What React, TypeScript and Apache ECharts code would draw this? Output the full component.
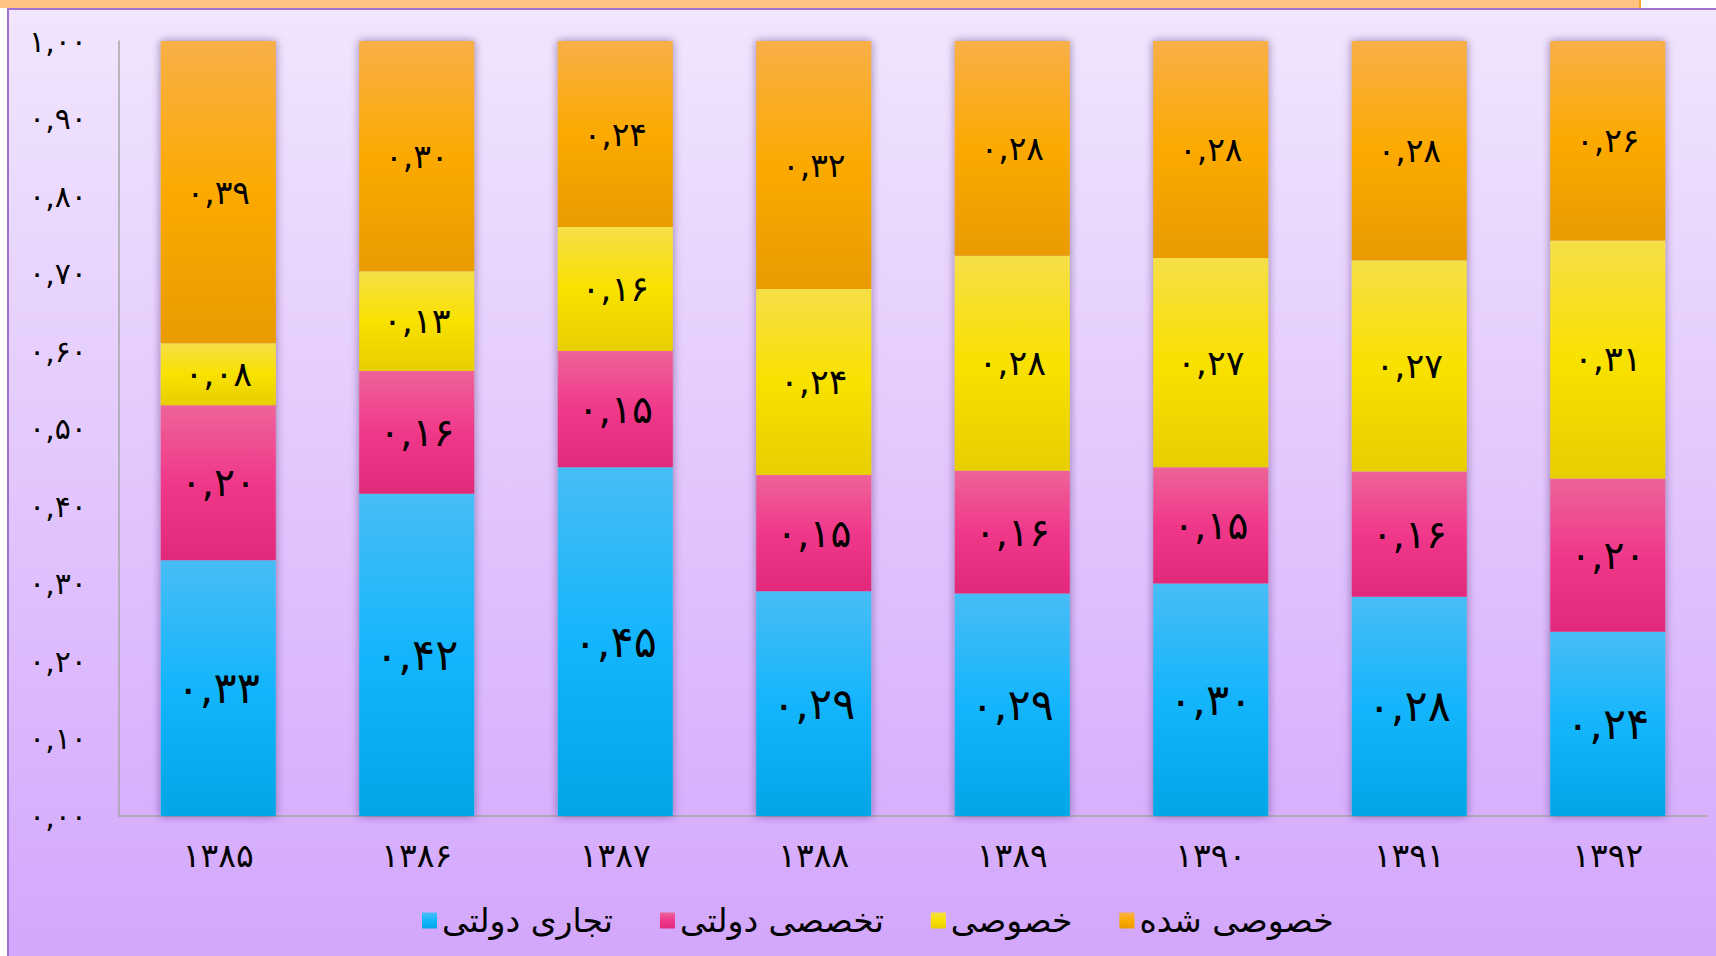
import React, { useEffect, useRef } from "react";
import * as echarts from "echarts";

const years = ["۱۳۸۵", "۱۳۸۶", "۱۳۸۷", "۱۳۸۸", "۱۳۸۹", "۱۳۹۰", "۱۳۹۱", "۱۳۹۲"];
const seriesNames = ["تجاری دولتی", "تخصصی دولتی", "خصوصی", "خصوصی شده"];
const tejariDolati = [0.33, 0.42, 0.45, 0.29, 0.29, 0.3, 0.28, 0.24];
const takhasosiDolati = [0.2, 0.16, 0.15, 0.15, 0.16, 0.15, 0.16, 0.2];
const khosusi = [0.08, 0.13, 0.16, 0.24, 0.28, 0.27, 0.27, 0.31];
const khosusiShode = [0.39, 0.3, 0.24, 0.32, 0.28, 0.28, 0.28, 0.26];

const allSeries = [tejariDolati, takhasosiDolati, khosusi, khosusiShode];

const FONT = "DejaVu Sans";

function toFa(v: number): string {
  const s = v.toFixed(2).replace(".", ",");
  return s.replace(/[0-9]/g, (d) => "۰۱۲۳۴۵۶۷۸۹"[Number(d)]);
}

function grad(c: string[]) {
  return new echarts.graphic.LinearGradient(0, 0, 0, 1, [
    { offset: 0, color: c[0] },
    { offset: 0.5, color: c[1] },
    { offset: 1, color: c[2] },
  ]);
}

const colorStops = [
  ["#48BDF6", "#14B5FC", "#00A6E6"],
  ["#EE6399", "#F0388A", "#E2287A"],
  ["#F6DF48", "#F9E100", "#E8CE00"],
  ["#F8AF48", "#FCAA00", "#E99B00"],
];
const labelSizes = [43, 39, 35, 33];

export default function App() {
  const ref = useRef<HTMLDivElement>(null);

  useEffect(() => {
    if (!ref.current) return;
    const chart = echarts.init(ref.current, null, { renderer: "svg" });
    const totals = years.map((_, i) => allSeries.reduce((s, arr) => s + arr[i], 0));

    const stacked = allSeries.map((arr, si) => ({
      name: seriesNames[si],
      type: "bar",
      stack: "total",
      barWidth: "58%",
      barGap: "-100%",
      z: 3,
      itemStyle: { color: grad(colorStops[si]) },
      label: {
        show: true,
        position: "inside",
        color: "#000",
        fontFamily: FONT,
        fontSize: labelSizes[si],
        formatter: (p: any) => toFa(p.data.raw),
      },
      data: arr.map((v, i) => ({ value: v / totals[i], raw: v })),
    }));

    const shadowSeries = {
      name: "shadow",
      type: "bar",
      barWidth: "58%",
      barGap: "-100%",
      z: 2,
      silent: true,
      itemStyle: {
        color: "#c9b3e6",
        shadowBlur: 9,
        shadowColor: "rgba(60,30,100,0.55)",
      },
      data: years.map(() => 1),
    };

    chart.setOption({
      animation: false,
      grid: { left: 119, top: 41, right: 9, bottom: 140 },
      legend: {
        data: seriesNames,
        left: 417,
        top: 899,
        itemWidth: 15,
        itemHeight: 16,
        itemGap: 47,
        icon: "rect",
        textStyle: { fontFamily: FONT, fontSize: 33, color: "#000" },
      },
      xAxis: {
        type: "category",
        data: years,
        axisLine: { show: true, lineStyle: { color: "#A6A6A6", width: 1.5 } },
        axisTick: { show: false },
        axisLabel: { color: "#000", fontFamily: FONT, fontSize: 33, margin: 23 },
      },
      yAxis: {
        type: "value",
        min: 0,
        max: 1,
        interval: 0.1,
        splitLine: { show: false },
        axisLine: { show: true, lineStyle: { color: "#A6A6A6", width: 1.5 } },
        axisTick: { show: false },
        axisLabel: {
          color: "#000",
          fontFamily: FONT,
          fontSize: 30,
          margin: 32,
          formatter: (v: number) => toFa(v),
        },
      },
      series: [shadowSeries, ...stacked],
    });
    return () => chart.dispose();
  }, []);

  return (
    <div style={{ position: "fixed", left: 0, top: 0, width: 1716, height: 956, background: "#fff", overflow: "hidden" }}>
      <div style={{ position: "absolute", left: 0, top: 0, width: 1639, height: 8, background: "#FFC283", borderRight: "2px solid #F8A830" }} />
      <div
        style={{
          position: "absolute",
          left: 7,
          top: 8,
          width: 1709,
          height: 948,
          boxSizing: "border-box",
          borderLeft: "2px solid #A070D0",
          borderTop: "2px solid #A070D0",
          background: "linear-gradient(to bottom, #F1E6FD, #D3A7FC)",
        }}
      />
      <div ref={ref} style={{ position: "absolute", left: 0, top: 0, width: 1716, height: 956 }} />
    </div>
  );
}
